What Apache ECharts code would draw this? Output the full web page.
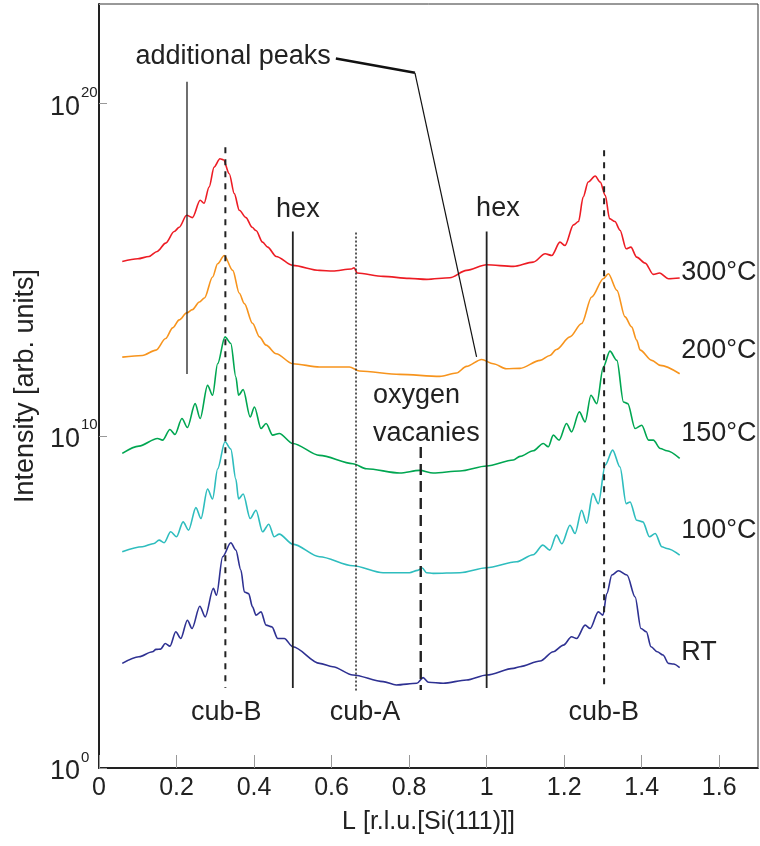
<!DOCTYPE html>
<html>
<head>
<meta charset="utf-8">
<script src="https://cdn.jsdelivr.net/npm/echarts@6/dist/echarts.min.js"></script>
<style>
  html, body { margin: 0; background: #fff; }
  #chart { width: 760px; height: 846px; }
</style>
</head>
<body>
<div id="chart"></div>
<script>
// values: [L (r.l.u.), log10 intensity]
const curve300 = [[0.06,15.25],[0.10,15.33],[0.129,15.40],[0.15,15.55],[0.172,15.80],[0.194,16.15],[0.207,16.28],[0.226,16.64],[0.241,16.57],[0.261,17.09],[0.271,17.00],[0.284,17.49],[0.297,18.09],[0.312,18.34],[0.321,18.31],[0.336,17.89],[0.349,17.29],[0.362,16.79],[0.379,16.57],[0.395,16.28],[0.405,16.18],[0.422,15.83],[0.435,15.68],[0.457,15.40],[0.50,15.13],[0.569,14.98],[0.603,14.96],[0.651,15.02],[0.658,15.06],[0.666,14.90],[0.733,14.80],[0.80,14.74],[0.845,14.71],[0.905,14.76],[0.948,14.98],[1.0,15.15],[1.069,15.10],[1.12,15.23],[1.151,15.48],[1.168,15.43],[1.189,15.83],[1.202,15.73],[1.224,16.35],[1.237,16.45],[1.249,17.19],[1.262,17.64],[1.28,17.82],[1.293,17.64],[1.306,17.24],[1.317,16.54],[1.331,16.45],[1.344,16.19],[1.36,15.63],[1.372,15.68],[1.387,15.38],[1.409,15.20],[1.43,14.86],[1.446,14.90],[1.469,14.73],[1.498,14.75]];
const curve200 = [[0.06,12.37],[0.112,12.42],[0.147,12.58],[0.172,12.93],[0.19,13.25],[0.207,13.49],[0.226,13.70],[0.241,13.80],[0.259,14.03],[0.272,14.15],[0.293,14.78],[0.306,15.18],[0.323,15.43],[0.345,14.98],[0.362,14.29],[0.375,13.98],[0.396,13.39],[0.414,12.98],[0.431,12.73],[0.457,12.47],[0.50,12.17],[0.569,12.07],[0.646,12.07],[0.672,11.95],[0.776,11.85],[0.879,11.79],[0.922,11.89],[0.948,12.09],[0.987,12.30],[1.017,12.17],[1.051,12.02],[1.086,12.03],[1.138,12.27],[1.163,12.42],[1.18,12.60],[1.215,12.98],[1.245,13.38],[1.271,14.18],[1.301,14.73],[1.314,14.88],[1.336,14.38],[1.357,13.58],[1.374,13.28],[1.387,12.88],[1.396,12.58],[1.426,12.27],[1.448,12.12],[1.498,11.87]];
const curve150 = [[0.06,9.47],[0.103,9.69],[0.151,9.92],[0.164,9.87],[0.183,10.19],[0.196,10.04],[0.214,10.52],[0.228,10.25],[0.248,10.97],[0.261,10.52],[0.28,11.52],[0.293,11.22],[0.306,12.17],[0.325,12.98],[0.34,12.78],[0.353,11.78],[0.36,11.22],[0.372,11.39],[0.39,10.57],[0.401,10.87],[0.418,10.22],[0.431,10.37],[0.448,10.02],[0.465,10.07],[0.50,9.77],[0.569,9.41],[0.655,9.16],[0.69,9.01],[0.776,8.88],[0.827,8.96],[0.862,8.88],[0.931,8.94],[1.0,9.09],[1.069,9.27],[1.086,9.38],[1.12,9.55],[1.146,9.77],[1.159,9.67],[1.172,10.02],[1.187,9.87],[1.206,10.37],[1.219,10.12],[1.239,10.72],[1.254,10.42],[1.269,11.22],[1.284,10.97],[1.301,12.07],[1.318,12.55],[1.336,12.27],[1.353,11.02],[1.364,10.97],[1.383,10.22],[1.40,10.32],[1.418,9.87],[1.43,9.87],[1.448,9.62],[1.465,9.55],[1.498,9.32]];
const curve100 = [[0.06,6.51],[0.112,6.66],[0.142,6.76],[0.155,6.86],[0.168,6.78],[0.185,7.11],[0.20,6.96],[0.217,7.41],[0.231,7.16],[0.25,7.84],[0.263,7.51],[0.28,8.40],[0.293,8.10],[0.306,9.00],[0.325,9.82],[0.34,9.60],[0.353,8.70],[0.36,8.10],[0.372,8.25],[0.39,7.51],[0.405,7.76],[0.422,7.11],[0.438,7.34],[0.452,6.96],[0.465,7.04],[0.50,6.74],[0.569,6.36],[0.655,6.09],[0.733,5.88],[0.801,5.88],[0.822,5.95],[0.834,6.02],[0.845,5.88],[0.862,5.86],[0.931,5.88],[1.0,6.03],[1.077,6.21],[1.12,6.42],[1.145,6.71],[1.163,6.56],[1.18,7.01],[1.194,6.75],[1.215,7.31],[1.228,7.06],[1.245,7.76],[1.258,7.37],[1.274,8.26],[1.288,7.96],[1.306,9.12],[1.325,9.57],[1.344,9.06],[1.36,7.96],[1.37,8.01],[1.387,7.46],[1.403,7.41],[1.42,6.96],[1.435,7.06],[1.452,6.66],[1.465,6.61],[1.498,6.41]];
const curveRT = [[0.06,3.15],[0.103,3.35],[0.138,3.50],[0.147,3.57],[0.159,3.58],[0.171,3.75],[0.183,3.67],[0.198,4.10],[0.211,3.90],[0.228,4.45],[0.24,4.20],[0.26,4.87],[0.274,4.55],[0.295,5.41],[0.303,5.20],[0.319,6.36],[0.34,6.78],[0.353,6.56],[0.366,5.96],[0.375,5.30],[0.386,5.25],[0.396,4.85],[0.405,4.60],[0.418,4.70],[0.431,4.30],[0.446,4.25],[0.461,3.90],[0.478,3.90],[0.50,3.65],[0.569,3.15],[0.603,3.05],[0.655,2.80],[0.733,2.60],[0.767,2.50],[0.82,2.55],[0.836,2.72],[0.85,2.58],[0.888,2.55],[0.948,2.65],[1.0,2.80],[1.069,3.00],[1.086,3.05],[1.138,3.22],[1.172,3.50],[1.198,3.70],[1.219,3.95],[1.232,3.90],[1.254,4.30],[1.267,4.20],[1.288,4.70],[1.30,4.60],[1.31,5.25],[1.323,5.81],[1.34,5.94],[1.362,5.81],[1.383,5.15],[1.398,4.20],[1.412,4.10],[1.424,3.65],[1.44,3.50],[1.455,3.40],[1.469,3.15],[1.482,3.13],[1.498,3.02]];

const curves = [curve300, curve200, curve150, curve100, curveRT];
const curveNames = ['300°C', '200°C', '150°C', '100°C', 'RT'];
const curveColors = ['#ed1c24', '#f7941d', '#00a651', '#2ebdbe', '#2e3192'];
const yTicks = [0, 10, 20];

// guide lines in data coords
const cubBLeft = [[0.326, 18.69], [0.326, 2.41]];
const cubBRight = [[1.303, 18.60], [1.303, 2.41]];
const hexLeft = [[0.5, 16.15], [0.5, 2.41]];
const hexRight = [[1.0, 16.15], [1.0, 2.41]];
const cubALine = [[0.663, 16.12], [0.663, 2.29]];
const oxyLine = [[0.830, 9.66], [0.830, 2.35]];
const addPeakLine = [[0.227, 20.66], [0.227, 11.86]];
const leaderTop = [[0.611, 21.36], [0.815, 20.93]];
const leaderDiag = [[0.815, 20.93], [0.974, 12.38]];

// text notes: label, anchor [L, log10 I], align
const notes = [
  ['additional peaks', [0.346, 21.43], 'center'],
  ['hex', [0.513, 16.80], 'center'],
  ['hex', [1.029, 16.85], 'center'],
  ['oxygen', [0.707, 11.22], 'left'],
  ['vacanies', [0.707, 10.08], 'left'],
  ['cub-B', [0.328, 1.66], 'center'],
  ['cub-A', [0.686, 1.66], 'center'],
  ['cub-B', [1.302, 1.66], 'center'],
  ['300°C', [1.502, 14.92], 'left'],
  ['200°C', [1.502, 12.58], 'left'],
  ['150°C', [1.502, 10.08], 'left'],
  ['100°C', [1.502, 7.15], 'left'],
  ['RT', [1.502, 3.49], 'left']
];

const FONT = '"Liberation Sans", Arial, Helvetica, sans-serif';
const chart = echarts.init(document.getElementById('chart'));

const guide = (data, width, type, color) => ({
  type: 'line',
  data: data,
  showSymbol: false,
  silent: true,
  z: 5,
  lineStyle: { color: color || '#222', width: width, type: type }
});

chart.setOption({
  animation: false,
  backgroundColor: '#fff',
  grid: {
    left: 99, right: 2, top: 4, bottom: 78,
    outerBoundsMode: 'none',
    show: true, borderColor: '#333', borderWidth: 1
  },
  xAxis: {
    type: 'value',
    min: 0,
    max: 1.7,
    interval: 0.2,
    name: 'L [r.l.u.[Si(111)]]',
    nameLocation: 'middle',
    nameGap: 42,
    nameTextStyle: { fontFamily: FONT, fontSize: 25, color: '#222' },
    axisLine: { lineStyle: { color: '#222', width: 2 } },
    axisTick: { inside: true, length: 13, lineStyle: { color: '#999' } },
    axisLabel: {
      fontFamily: FONT, fontSize: 25, color: '#222', margin: 8,
      formatter: v => (v > 1.65 ? '' : String(+v.toFixed(1)))
    },
    splitLine: { show: false }
  },
  yAxis: {
    type: 'value',
    min: 0,
    max: 23,
    interval: 10,
    name: 'Intensity [arb. units]',
    nameLocation: 'middle',
    nameGap: 39,
    nameTextStyle: { fontFamily: FONT, fontSize: 27, color: '#222' },
    axisLine: { lineStyle: { color: '#222', width: 2 } },
    axisTick: { inside: true, length: 8, lineStyle: { color: '#999' } },
    axisLabel: {
      margin: 49,
      align: 'left',
      padding: [8, 0, 0, 0],
      formatter: v => (yTicks.includes(v) ? '{b|10}{s|' + v + '}' : ''),
      rich: {
        b: { fontFamily: FONT, fontSize: 27, color: '#222', lineHeight: 44 },
        s: { fontFamily: FONT, fontSize: 15, color: '#222', verticalAlign: 'top', lineHeight: 15, padding: [0, 0, 0, 1] }
      }
    },
    splitLine: { show: false }
  },
  series: curves.map((c, i) => ({
    name: curveNames[i],
    type: 'line',
    data: c,
    showSymbol: false,
    smooth: 0.3,
    smoothMonotone: 'x',
    z: 3,
    lineStyle: { color: curveColors[i], width: 1.6 }
  })).concat([
    guide(cubBLeft, 2, [6, 6]),
    guide(cubBRight, 2, [6, 6]),
    guide(hexLeft, 1.8, 'solid'),
    guide(hexRight, 1.8, 'solid'),
    guide(cubALine, 1.5, [2, 2]),
    guide(oxyLine, 2.4, [11, 6]),
    guide(addPeakLine, 1.3, 'solid'),
    guide(leaderTop, 2.5, 'solid', '#111'),
    guide(leaderDiag, 1.2, 'solid', '#111')
  ])
});

// place text notes through the grid's coordinate system
chart.setOption({
  graphic: notes.map(n => {
    const p = chart.convertToPixel({ gridIndex: 0 }, n[1]);
    return {
      type: 'text',
      x: p[0],
      y: p[1],
      z: 10,
      style: {
        text: n[0],
        fill: '#222',
        font: '27px ' + FONT,
        align: n[2],
        verticalAlign: 'middle'
      }
    };
  })
});
</script>
</body>
</html>
